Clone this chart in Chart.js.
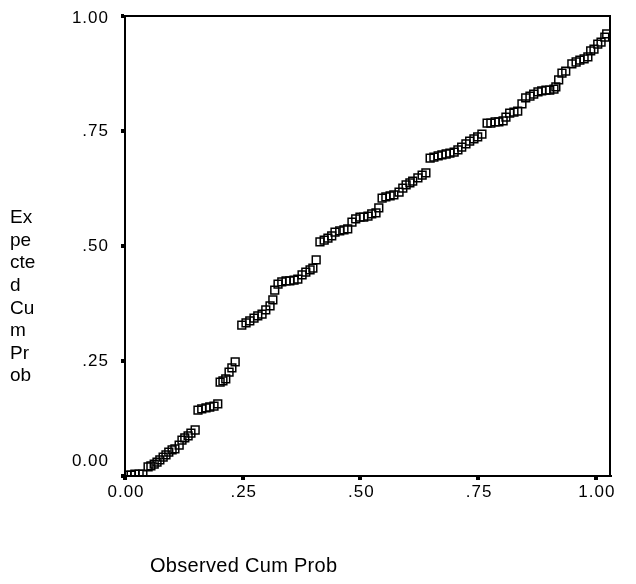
<!DOCTYPE html>
<html>
<head>
<meta charset="utf-8">
<script src="https://cdn.jsdelivr.net/npm/chart.js@4"></script>
<style>
html,body{margin:0;padding:0;background:#fff;}
canvas{display:block;}
</style>
</head>
<body>
<canvas id="c" width="636" height="584"></canvas>
<script>
// Observed cumulative probability (x) and expected cumulative probability (y)
const observedCumProb = [
0.004,0.013,0.021,0.030,0.038,0.049,0.055,0.062,0.068,0.074,
0.081,0.087,0.093,0.100,0.106,0.115,0.121,0.127,0.134,0.140,
0.149,0.155,0.163,0.172,0.180,0.189,0.197,0.202,0.208,0.214,
0.221,0.227,0.234,0.248,0.257,0.265,0.274,0.282,0.291,0.299,
0.308,0.314,0.318,0.325,0.333,0.342,0.350,0.359,0.367,0.376,
0.384,0.393,0.399,0.406,0.414,0.423,0.431,0.439,0.446,0.456,
0.465,0.473,0.482,0.490,0.499,0.507,0.516,0.524,0.533,0.539,
0.546,0.554,0.563,0.571,0.582,0.590,0.597,0.605,0.611,0.622,
0.631,0.639,0.648,0.656,0.665,0.673,0.682,0.690,0.699,0.707,
0.715,0.724,0.732,0.741,0.749,0.758,0.769,0.777,0.786,0.794,
0.803,0.809,0.817,0.826,0.834,0.843,0.851,0.860,0.868,0.877,
0.885,0.894,0.902,0.911,0.915,0.921,0.928,0.936,0.949,0.958,
0.966,0.975,0.983,0.989,0.996,1.004,1.011,1.019,1.023
];
const expectedCumProb = [
0.002,0.002,0.004,0.004,0.004,0.020,0.022,0.026,0.030,0.035,
0.041,0.046,0.052,0.057,0.059,0.067,0.078,0.083,0.087,0.093,
0.100,0.143,0.146,0.148,0.150,0.152,0.157,0.204,0.207,0.211,
0.226,0.235,0.248,0.328,0.333,0.337,0.343,0.348,0.352,0.361,
0.370,0.383,0.404,0.417,0.422,0.424,0.424,0.426,0.428,0.437,
0.443,0.448,0.452,0.470,0.509,0.513,0.517,0.522,0.530,0.533,
0.535,0.537,0.552,0.559,0.563,0.563,0.565,0.570,0.572,0.583,
0.604,0.607,0.609,0.611,0.617,0.626,0.633,0.637,0.641,0.648,
0.654,0.659,0.691,0.693,0.696,0.698,0.700,0.702,0.704,0.709,
0.715,0.722,0.728,0.733,0.737,0.743,0.767,0.767,0.770,0.770,
0.772,0.780,0.789,0.791,0.793,0.809,0.822,0.826,0.830,0.835,
0.837,0.839,0.839,0.841,0.846,0.861,0.876,0.880,0.896,0.900,
0.904,0.907,0.911,0.924,0.928,0.939,0.943,0.954,0.961
];
const tickValues = [0, 0.25, 0.5, 0.75, 1];
const tickLabels = ["0.00", ".25", ".50", ".75", "1.00"];
const xTitle = "Observed Cum Prob";
const yTitleLines = ["Ex", "pe", "cte", "d", "Cu", "m", "Pr", "ob"];

const points = observedCumProb.map((x, i) => ({x: x, y: expectedCumProb[i]}));
const FONT = '"Liberation Sans", Arial, Helvetica, sans-serif';

const decor = {
  id: 'decor',
  afterDraw(chart) {
    const ctx = chart.ctx, a = chart.chartArea;
    const xs = chart.scales.x, ys = chart.scales.y;
    ctx.save();
    // frame: top and right
    ctx.strokeStyle = '#000';
    ctx.lineWidth = 2;
    ctx.beginPath();
    ctx.moveTo(a.left, a.top); ctx.lineTo(a.right, a.top); ctx.lineTo(a.right, a.bottom);
    ctx.stroke();
    ctx.fillStyle = '#000';
    ctx.font = '17px ' + FONT;
    ctx.letterSpacing = '1px';
    // y tick labels
    ctx.textAlign = 'right';
    ctx.textBaseline = 'middle';
    tickValues.forEach((v, i) => {
      let py = ys.getPixelForValue(v);
      if (v === 0) py -= 15;
      if (v === 1) py += 2;
      ctx.fillText(tickLabels[i], a.left - 16, py);
    });
    // x tick labels
    ctx.textAlign = 'center';
    tickValues.forEach((v, i) => {
      ctx.fillText(tickLabels[i], xs.getPixelForValue(v) + 1, a.bottom + 16);
    });
    ctx.letterSpacing = '0px';
    // y title
    ctx.font = '19px ' + FONT;
    ctx.textAlign = 'left';
    yTitleLines.forEach((t, i) => ctx.fillText(t, 10, 218 + i * 22.6));
    // x title
    ctx.font = '20px ' + FONT;
    ctx.letterSpacing = '0.3px';
    ctx.fillText(xTitle, 150, 566);
    ctx.restore();
  }
};

new Chart(document.getElementById('c'), {
  type: 'scatter',
  data: {
    datasets: [{
      data: points,
      pointStyle: 'rect',
      pointRadius: 5.5,
      borderColor: '#000',
      backgroundColor: 'rgba(0,0,0,0)',
      borderWidth: 1.5
    }]
  },
  options: {
    responsive: false,
    animation: false,
    devicePixelRatio: 1,
    layout: {padding: {left: 0, top: 16, right: 26, bottom: 0}},
    plugins: {legend: {display: false}, tooltip: {enabled: false}},
    scales: {
      x: {
        type: 'linear', min: 0, max: 1.03,
        afterBuildTicks: s => { s.ticks = tickValues.map(v => ({value: v})); },
        afterFit: s => { s.height = 108; },
        border: {color: '#000', width: 2},
        grid: {drawOnChartArea: false, drawTicks: true, tickLength: 4, lineWidth: 4, color: '#000'},
        ticks: {display: false}
      },
      y: {
        type: 'linear', min: 0, max: 1,
        afterBuildTicks: s => { s.ticks = tickValues.map(v => ({value: v})); },
        afterFit: s => { s.width = 125; },
        border: {color: '#000', width: 2},
        grid: {drawOnChartArea: false, drawTicks: true, tickLength: 4, lineWidth: 4, color: '#000'},
        ticks: {display: false}
      }
    }
  },
  plugins: [decor]
});
</script>
</body>
</html>
